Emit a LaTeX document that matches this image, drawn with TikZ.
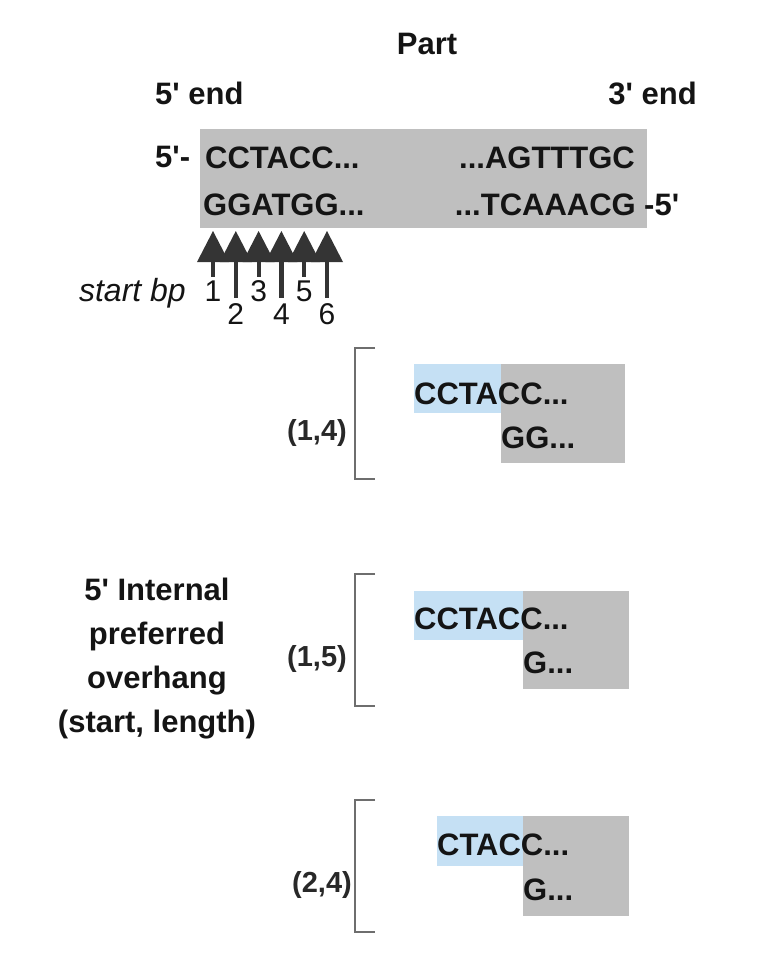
\documentclass[tikz,border=0pt]{standalone}
\usepackage{fontspec}
\setmainfont{Liberation Sans}
\newcommand\apo{\textquotesingle}
\definecolor{boxgray}{RGB}{191,191,191}
\definecolor{boxblue}{RGB}{197,224,244}
\definecolor{brkgray}{RGB}{110,110,110}
\definecolor{arrowdark}{RGB}{52,52,52}
\definecolor{txtdark}{RGB}{20,20,20}
\definecolor{txtmed}{RGB}{40,40,40}
\tikzset{
  txtb/.style={inner sep=0pt, text=txtdark, font=\fontsize{31}{37}\selectfont\bfseries},
  txtm/.style={inner sep=0pt, text=txtmed, font=\fontsize{29}{35}\selectfont\bfseries},
  num/.style={inner sep=0pt, text=txtdark, font=\fontsize{30}{36}\selectfont},
  ital/.style={inner sep=0pt, text=txtdark, font=\fontsize{32}{38}\selectfont\itshape},
  graybox/.style={fill=boxgray, draw=none},
  bluebox/.style={fill=boxblue, draw=none},
  brk/.style={draw=brkgray, line width=2pt},
  tri/.style={fill=arrowdark, draw=none},
  stemline/.style={draw=arrowdark, line width=4.2pt}
}
\begin{document}
\begin{tikzpicture}[x=1pt,y=-1pt]
\useasboundingbox (0,0) rectangle (756,961);

% header
\node[txtb, anchor=base] (part) at (427,54) {Part};
\node[txtb, anchor=base west] (end5) at (155,104) {5\apo{} end};
\node[txtb, anchor=base east] (end3) at (697,104) {3\apo{} end};

% main part
\fill[graybox] (200,129) rectangle (647,228);
\node[txtb, anchor=base west] (p5a) at (155,167) {5\apo-};
\node[txtb, anchor=base west] (top1) at (205,168) {CCTACC...};
\node[txtb, anchor=base west] (bot1) at (203,215) {GGATGG...};
\node[txtb, anchor=base east] (top2) at (635,168) {...AGTTTGC};
\node[txtb, anchor=base east] (bot2) at (636,215) {...TCAAACG};
\node[txtb, anchor=base west] (p5b) at (644,215) {-5\apo};

% start positions
\foreach \i/\len in {1/277,2/298,3/277,4/298,5/277,6/298}{
  \pgfmathsetmacro\xx{213+22.8*(\i-1)}
  \fill[tri] (\xx,231) -- (\xx+16,262) -- (\xx-16,262) -- cycle;
  \draw[stemline] (\xx,260) -- (\xx,\len);
}
\foreach \i in {1,3,5}{
  \pgfmathsetmacro\xx{213+22.8*(\i-1)}
  \node[num, anchor=base] (n\i) at (\xx,301) {\i};
}
\foreach \i in {2,4,6}{
  \pgfmathsetmacro\xx{213+22.8*(\i-1)}
  \node[num, anchor=base] (n\i) at (\xx,324) {\i};
}
\node[ital, anchor=base east] (sbp) at (186,301) {start bp};

% left label
\node[txtb, anchor=base] (lbl1) at (157,600) {5\apo{} Internal};
\node[txtb, anchor=base] (lbl2) at (157,644) {preferred};
\node[txtb, anchor=base] (lbl3) at (157,688) {overhang};
\node[txtb, anchor=base] (lbl4) at (157,732) {(start, length)};

% panel 1
\draw[brk] (375,348) -- (355,348) -- (355,479) -- (375,479);
\fill[bluebox] (414,364) rectangle (501,413);
\fill[graybox] (501,364) rectangle (625,463);
\node[txtb, anchor=base west] (a1) at (414,404) {CCTACC...};
\node[txtb, anchor=base west] (a2) at (501,448) {GG...};
\node[txtm, anchor=base east] (a3) at (347,440) {(1,4)};

% panel 2
\draw[brk] (375,574) -- (355,574) -- (355,706) -- (375,706);
\fill[bluebox] (414,591) rectangle (523,640);
\fill[graybox] (523,591) rectangle (629,689);
\node[txtb, anchor=base west] (b1) at (414,629) {CCTACC...};
\node[txtb, anchor=base west] (b2) at (523,673) {G...};
\node[txtm, anchor=base east] (b3) at (347,666) {(1,5)};

% panel 3
\draw[brk] (375,800) -- (355,800) -- (355,932) -- (375,932);
\fill[bluebox] (437,816) rectangle (523,866);
\fill[graybox] (523,816) rectangle (629,916);
\node[txtb, anchor=base west] (c1) at (437,855) {CTACC...};
\node[txtb, anchor=base west] (c2) at (523,900) {G...};
\node[txtm, anchor=base east] (c3) at (352,892) {(2,4)};
\end{tikzpicture}
\end{document}
